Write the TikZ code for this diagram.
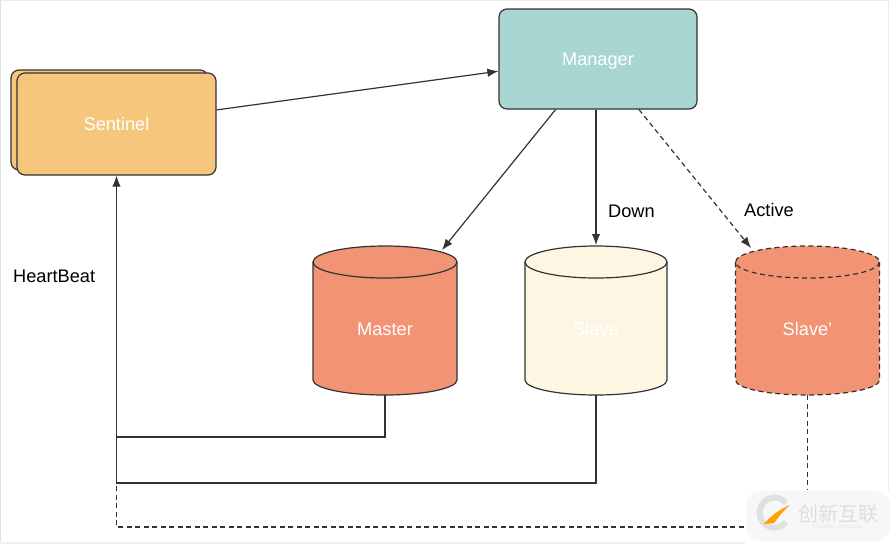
\documentclass[tikz,border=0pt]{standalone}
\usepackage{fontspec}
\setmainfont{Liberation Sans}
\newfontfamily\cjkfont{Noto Sans CJK SC}
\usetikzlibrary{arrows.meta,calc}
\definecolor{linec}{HTML}{333333}
\definecolor{orangef}{HTML}{F5C67C}
\definecolor{tealf}{HTML}{A9D6D1}
\definecolor{redf}{HTML}{F29373}
\definecolor{creamf}{HTML}{FDF6E3}
\tikzset{
  every node/.style={font=\fontsize{18.2}{21}\selectfont},
  boxnode/.style={draw=linec,line width=1.2pt,rounded corners=8pt,text=white,inner sep=0pt,text height=13pt,text depth=0pt},
  cylbody/.style={inner sep=0pt,text=white,minimum height=133pt,text height=13pt,text depth=0pt},
  lab/.style={text=black,inner sep=0pt,anchor=west},
  conn/.style={draw=linec,line width=1.2pt},
  arr/.style={conn,-{Latex[length=11pt,width=8.5pt]}},
  dashline/.style={dash pattern=on 5pt off 3.5pt},
}
% centre x, half width, top-ellipse centre y, bottom y, fill, line options
\newcommand{\cylshape}[6]{%
  \fill[#5] (#1-#2,#3) -- (#1-#2,#4-15)
     arc[start angle=180,end angle=0,x radius=#2,y radius=15] -- (#1+#2,#3) -- cycle;
  \fill[#5] (#1,#3) ellipse[x radius=#2,y radius=16];
  \draw[draw=linec,line width=1.2pt,#6] (#1-#2,#3) -- (#1-#2,#4-15)
     arc[start angle=180,end angle=0,x radius=#2,y radius=15] -- (#1+#2,#3);
  \draw[draw=linec,line width=1.2pt,#6] (#1,#3) ellipse[x radius=#2,y radius=16];
}
\begin{document}
\begin{tikzpicture}[x=1pt,y=-1pt]
\useasboundingbox (0,0) rectangle (890,544);
\fill[white] (0,0) rectangle (890,544);
\fill[black!12] (0,0) rectangle (1.2,544);
\fill[black!8] (0,0) rectangle (890,1);
\fill[black!8] (887.5,0) rectangle (888.5,490);
\fill[black!6] (0,541.5) rectangle (745,544);

% Sentinel (stacked) and Manager
\node[boxnode,fill=orangef,minimum width=197pt,minimum height=100pt] (sentinelback) at (109.5,120) {};
\node[boxnode,fill=orangef,minimum width=199pt,minimum height=102pt] (sentinel) at (116.5,124) {Sentinel};
\node[boxnode,fill=tealf,minimum width=198pt,minimum height=100pt] (manager) at (598,59) {Manager};

% Cylinders
\cylshape{385}{72}{262}{395}{redf}{}
\node[cylbody,minimum width=144pt] (master) at (385,328.5) {Master};
\cylshape{596}{71}{262}{395}{creamf}{}
\node[cylbody,minimum width=142pt] (slave) at (596,328.5) {Slave};
\cylshape{807.5}{72}{262}{395}{redf}{dashline}
\node[cylbody,minimum width=144pt] (slavep) at (807.5,328.5) {Slave’};

\coordinate (mastertip) at (442,250);
\coordinate (slavetip) at (596,245);
\coordinate (slaveptip) at (751,248);
\coordinate (j1) at (116.5,437);
\coordinate (j2) at (116.5,483);
\coordinate (j3) at (116.5,527);

% Connectors
\draw[arr] (sentinel.8) -- (manager.187.5);
\draw[arr] (manager.230.6) -- (mastertip);
\draw[arr] (manager.south -| slave.north) -- (slavetip);
\draw[arr,dashline] (manager.309.4) -- (slaveptip);
\draw[arr] (master.south) |- (j1) -- (sentinel.south);
\draw[conn] (slave.south) |- (j2) -- (j1);
\draw[conn,dashline] (slavep.south) |- (j3) -- (j2);

% Labels
\node[lab] (heartbeat) at (13,276) {HeartBeat};
\node[lab] (down) at (608,211) {Down};
\node[lab] (active) at (744,210) {Active};

% Watermark
\fill[white] (745,490) rectangle (890,544);
\fill[black!3,rounded corners=14pt] (746,491) rectangle (890,541);
\draw[black!12,line width=6pt] (786,503) arc[start angle=-40,end angle=-320,radius=15];
\fill[orange!75!yellow] (790,505) .. controls (778,510) and (770,517) .. (764,524) -- (774,523) .. controls (780,515) and (784,510) .. (790,505) -- cycle;
\node[text=black!13,inner sep=0pt,anchor=center] (wm1) at (838,514) {\cjkfont\fontsize{20}{22}\selectfont 创新互联};
\node[text=black!10,inner sep=0pt,anchor=center] (wm2) at (838,527) {\fontsize{5}{6}\selectfont CHUANG XINHULIAN};
\end{tikzpicture}
\end{document}
